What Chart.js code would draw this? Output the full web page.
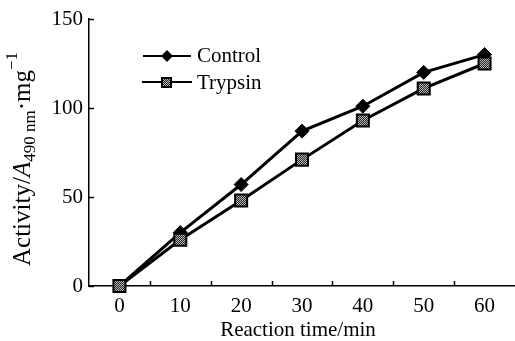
<!DOCTYPE html>
<html>
<head>
<meta charset="utf-8">
<script src="https://cdn.jsdelivr.net/npm/chart.js@4/dist/chart.umd.min.js"></script>
<style>
html,body{margin:0;padding:0;background:#fff;}
canvas{display:block;}
</style>
</head>
<body>
<canvas id="c" width="515" height="341"></canvas>
<script>
const categories = ['0', '10', '20', '30', '40', '50', '60'];
const controlValues = [0, 30, 57, 87, 101, 120, 130];
const trypsinValues = [0, 26, 48, 71, 93, 111, 125];
const yTicks = [0, 50, 100, 150];
const seriesNames = ['Control', 'Trypsin'];

const FONT = '"Liberation Serif", "Times New Roman", serif';

// checkered fill for the square markers
const pc = document.createElement('canvas');
pc.width = 2; pc.height = 2;
const pctx = pc.getContext('2d');
pctx.fillStyle = '#222'; pctx.fillRect(0,0,2,2);
pctx.fillStyle = '#bbb'; pctx.fillRect(0,0,1,1); pctx.fillRect(1,1,1,1);
const pattern = document.getElementById('c').getContext('2d').createPattern(pc, 'repeat');

const decor = {
  id: 'decor',
  afterDraw(chart) {
    const ctx = chart.ctx;
    const xs = chart.scales.x, ys = chart.scales.y;
    const ca = chart.chartArea;
    ctx.save();
    ctx.strokeStyle = '#000';
    ctx.lineWidth = 1.5;
    // inner y ticks
    yTicks.forEach(v => {
      const py = Math.round(ys.getPixelForValue(v)) + 0.5;
      ctx.beginPath(); ctx.moveTo(ca.left, py); ctx.lineTo(ca.left + 5, py); ctx.stroke();
    });
    // inner x ticks between categories
    for (let i = 0; i < categories.length - 1; i++) {
      const px = Math.round((xs.getPixelForValue(i) + xs.getPixelForValue(i + 1)) / 2) + 0.5;
      ctx.beginPath(); ctx.moveTo(px, ca.bottom); ctx.lineTo(px, ca.bottom - 5); ctx.stroke();
    }
    ctx.fillStyle = '#000';
    // x title
    ctx.font = '21px ' + FONT;
    ctx.textAlign = 'center'; ctx.textBaseline = 'middle';
    ctx.fillText('Reaction time/min', 298, 330);

    // y title with mixed styles
    const parts = [
      {t: 'Activity/', f: '25px ' + FONT, dy: 0},
      {t: 'A', f: 'italic 25px ' + FONT, dy: 0},
      {t: '490 nm', f: '17px ' + FONT, dy: 5},
      {t: '\u00B7mg', f: '25px ' + FONT, dy: 0},
      {t: '\u22121', f: '17px ' + FONT, dy: -13}
    ];
    let total = 0;
    parts.forEach(p => { ctx.font = p.f; p.w = ctx.measureText(p.t).width; total += p.w; });
    ctx.save();
    ctx.translate(30, 159);
    ctx.rotate(-Math.PI / 2);
    ctx.textAlign = 'left'; ctx.textBaseline = 'alphabetic';
    let cx = -total / 2;
    parts.forEach(p => { ctx.font = p.f; ctx.fillText(p.t, cx, p.dy); cx += p.w; });
    ctx.restore();

    // legend
    ctx.lineWidth = 2;
    ctx.beginPath(); ctx.moveTo(143, 56); ctx.lineTo(191, 56); ctx.stroke();
    ctx.beginPath(); ctx.moveTo(142, 82); ctx.lineTo(192, 82); ctx.stroke();
    // diamond
    ctx.beginPath();
    ctx.moveTo(167, 50); ctx.lineTo(173, 56); ctx.lineTo(167, 62); ctx.lineTo(161, 56); ctx.closePath();
    ctx.fillStyle = '#000'; ctx.fill();
    // square
    ctx.fillStyle = '#000'; ctx.fillRect(161, 77, 11, 11);
    ctx.fillStyle = pattern; ctx.fillRect(163, 79, 7, 7);
    ctx.fillStyle = '#000';
    ctx.font = '21px ' + FONT;
    ctx.textAlign = 'left'; ctx.textBaseline = 'middle';
    ctx.fillText(seriesNames[0], 197, 56);
    ctx.fillText(seriesNames[1], 197, 83);
    ctx.restore();
  }
};

new Chart(document.getElementById('c'), {
  type: 'line',
  data: {
    labels: categories,
    datasets: [
      {
        label: seriesNames[0],
        data: controlValues,
        borderColor: '#000',
        borderWidth: 3,
        backgroundColor: '#000',
        pointStyle: 'rectRot',
        pointRadius: 7,
        pointBorderWidth: 1,
        pointBorderColor: '#000',
        pointBackgroundColor: '#000',
        tension: 0,
        order: 2
      },
      {
        label: seriesNames[1],
        data: trypsinValues,
        borderColor: '#000',
        borderWidth: 3,
        backgroundColor: pattern,
        pointStyle: 'rect',
        pointRadius: 8.5,
        pointBorderWidth: 2,
        pointBorderColor: '#000',
        pointBackgroundColor: pattern,
        tension: 0,
        order: 1,
        clip: false
      }
    ]
  },
  options: {
    responsive: false,
    animation: false,
    events: [],
    layout: { autoPadding: false, padding: { top: 19, right: 0, left: 0, bottom: 0 } },
    plugins: { legend: { display: false }, tooltip: { enabled: false }, title: { display: false } },
    scales: {
      x: {
        type: 'category',
        offset: true,
        grid: { display: false, drawTicks: false },
        border: { display: true, color: '#000', width: 1.5 },
        ticks: { color: '#000', font: { family: FONT, size: 21 }, padding: 8, maxRotation: 0, autoSkip: false },
        afterFit(s) { s.height = 55; s.paddingLeft = 0; s.paddingRight = 0; }
      },
      y: {
        min: 0, max: 150,
        afterBuildTicks(s) { s.ticks = yTicks.map(v => ({ value: v })); },
        grid: { display: false, drawTicks: false },
        border: { display: true, color: '#000', width: 1.5 },
        ticks: { color: '#000', font: { family: FONT, size: 21 }, padding: 6 },
        afterFit(s) { s.width = 89; s.paddingTop = 0; s.paddingBottom = 0; }
      }
    }
  },
  plugins: [decor]
});
</script>
</body>
</html>
